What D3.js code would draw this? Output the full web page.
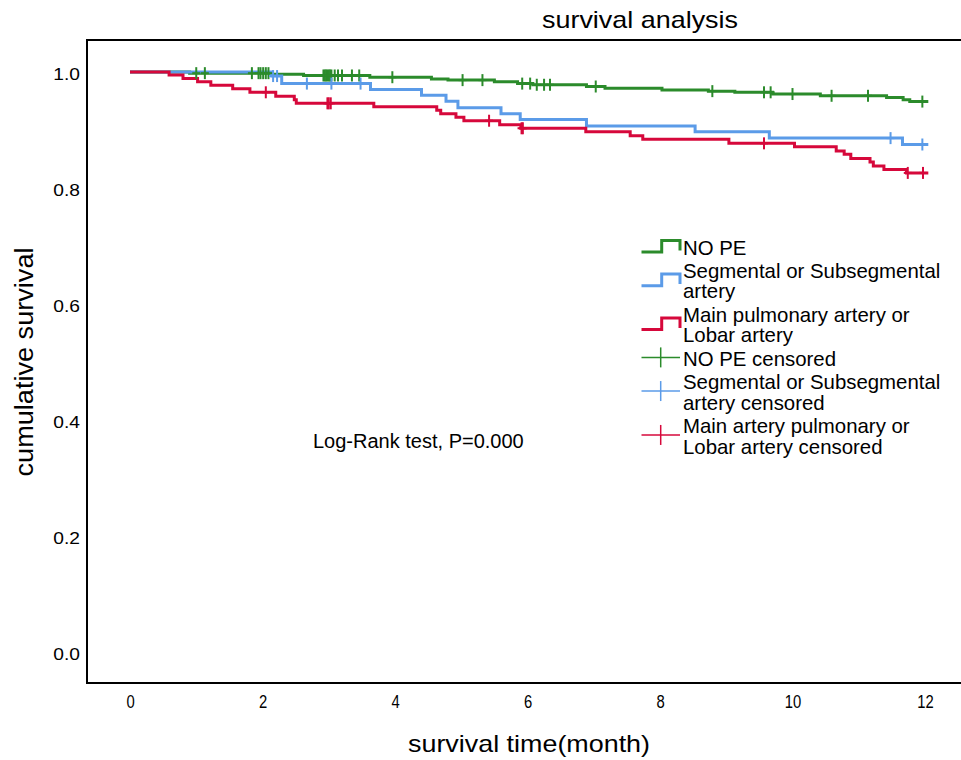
<!DOCTYPE html>
<html>
<head>
<meta charset="utf-8">
<script src="https://cdn.jsdelivr.net/npm/d3@7"></script>
<style>
  body { margin: 0; background: #fff; }
  svg text { font-family: "Liberation Sans", Arial, sans-serif; fill: #000; }
</style>
</head>
<body>
<svg id="chart" width="961" height="760"></svg>
<script>
// ---- data ----
const groupNames = ["NO PE", "Segmental or Subsegmental artery", "Main pulmonary artery or Lobar artery"];
const groupColors = ["#2b8b2b", "#5b9be8", "#d6083b"];
const endTime = 12.05;

const noPeTimes = [0.9, 2.15, 2.62, 3.62, 4.55, 4.8, 5.5, 5.85, 6.08, 6.89, 7.17, 8.03, 8.73, 9.13, 9.7, 10.42, 11.42, 11.67, 11.77];
const noPeSurv  = [0.998, 0.996, 0.994, 0.991, 0.988, 0.986, 0.983, 0.980, 0.978, 0.975, 0.972, 0.969, 0.967, 0.965, 0.962, 0.959, 0.956, 0.952, 0.949];
const noPeCensor = [1.0, 1.13, 1.84, 1.94, 1.97, 2.01, 2.05, 2.09, 2.92, 2.94, 2.96, 2.98, 3.0, 3.02, 3.04, 3.09, 3.14, 3.2, 3.35, 3.46,
  3.96, 5.02, 5.32, 5.92, 6.04, 6.14, 6.25, 6.34, 7.03, 8.79, 9.57, 9.67, 10.0, 10.59, 11.14, 11.96];

const segTimes = [2.14, 2.29, 3.63, 4.40, 4.77, 4.95, 5.60, 5.89, 6.89, 8.53, 9.65, 11.66];
const segSurv  = [0.993, 0.980, 0.970, 0.960, 0.9495, 0.9385, 0.928, 0.918, 0.907, 0.897, 0.886, 0.875];
const segCensor = [2.16, 2.22, 2.67, 3.04, 3.48, 11.48, 11.96];

const mainTimes = [0.59, 0.80, 1.02, 1.22, 1.55, 1.81, 2.20, 2.48, 2.51, 3.68, 4.63, 4.69, 4.92, 5.04, 5.58, 5.90, 6.88, 7.55, 7.74,
  9.04, 10.03, 10.66, 10.78, 10.88, 11.17, 11.22, 11.38, 11.72];
const mainSurv  = [0.995, 0.989, 0.983, 0.977, 0.971, 0.965, 0.958, 0.952, 0.946, 0.940, 0.934, 0.928, 0.922, 0.916, 0.909, 0.903,
  0.897, 0.890, 0.884, 0.877, 0.871, 0.864, 0.858, 0.851, 0.845, 0.838, 0.832, 0.826];
const mainCensor = [2.05, 2.98, 3.0, 3.03, 5.42, 5.91, 5.93, 9.57, 11.74, 11.97];

const xTicks = [0, 2, 4, 6, 8, 10, 12];
const yTicks = [0, 0.2, 0.4, 0.6, 0.8, 1.0];

const legendItems = [
  { lines: ["NO PE"], type: "step", color: 0 },
  { lines: ["Segmental or Subsegmental", "artery"], type: "step", color: 1 },
  { lines: ["Main pulmonary artery or", "Lobar artery"], type: "step", color: 2 },
  { lines: ["NO PE censored"], type: "cross", color: 0 },
  { lines: ["Segmental or Subsegmental", "artery censored"], type: "cross", color: 1 },
  { lines: ["Main artery pulmonary or", "Lobar artery censored"], type: "cross", color: 2 }
];

// ---- layout ----
const svg = d3.select("#chart");
const x = d3.scaleLinear().domain([0, 12]).range([130, 925]);
const y = d3.scaleLinear().domain([0, 1]).range([652, 72]);

// frame
svg.append("line").attr("x1", 87).attr("x2", 87).attr("y1", 40).attr("y2", 684)
  .attr("stroke", "#000").attr("stroke-width", 2);
svg.append("line").attr("x1", 86).attr("x2", 961).attr("y1", 40).attr("y2", 40)
  .attr("stroke", "#000").attr("stroke-width", 2);
svg.append("line").attr("x1", 86).attr("x2", 961).attr("y1", 683).attr("y2", 683)
  .attr("stroke", "#000").attr("stroke-width", 2);

// axes (labels only)
const xAxis = svg.append("g").attr("transform", "translate(0,683)")
  .call(d3.axisBottom(x).tickValues(xTicks).tickSize(0).tickPadding(0).tickFormat(d3.format("d")));
xAxis.select(".domain").remove();
xAxis.attr("font-size", null);
xAxis.selectAll("text").attr("y", 0).attr("dy", 0)
  .attr("transform", "translate(0,25) scale(0.78,1)")
  .attr("font-size", 19).style("font-size", "19px");

const yAxis = svg.append("g").attr("transform", "translate(80,0)")
  .call(d3.axisLeft(y).tickValues(yTicks).tickSize(0).tickPadding(0).tickFormat(d3.format(".1f")));
yAxis.select(".domain").remove();
yAxis.attr("font-size", null);
yAxis.selectAll("text").attr("x", 0).attr("dy", "0.36em")
  .attr("transform", "translate(0,2) scale(1.2,1)")
  .attr("font-size", 16).style("font-size", "16px");

// titles
svg.append("text").attr("x", 640).attr("y", 28).attr("text-anchor", "middle")
  .attr("textLength", 196).attr("lengthAdjust", "spacingAndGlyphs")
  .style("font-size", "24px").text("survival analysis");
svg.append("text").attr("x", 529).attr("y", 752).attr("text-anchor", "middle")
  .attr("textLength", 242).attr("lengthAdjust", "spacingAndGlyphs")
  .style("font-size", "24px").text("survival time(month)");
svg.append("text").attr("transform", "translate(33,362) rotate(-90)").attr("text-anchor", "middle")
  .attr("textLength", 229).attr("lengthAdjust", "spacingAndGlyphs")
  .style("font-size", "25px").text("cumulative survival");

svg.append("text").attr("x", 313).attr("y", 448).style("font-size", "20px")
  .text("Log-Rank test, P=0.000");

// ---- curves ----
const series = [
  { times: noPeTimes, surv: noPeSurv, censor: noPeCensor },
  { times: segTimes, surv: segSurv, censor: segCensor },
  { times: mainTimes, surv: mainSurv, censor: mainCensor }
];

function survAt(s, t) {
  let v = 1;
  s.times.forEach((tt, i) => { if (tt <= t) v = s.surv[i]; });
  return v;
}

const line = d3.line().x(d => x(d[0])).y(d => y(d[1])).curve(d3.curveStepAfter);

series.forEach((s, i) => {
  const pts = [[0, 1]].concat(s.times.map((t, j) => [t, s.surv[j]]));
  pts.push([endTime, s.surv[s.surv.length - 1]]);
  svg.append("path").datum(pts).attr("d", line)
    .attr("fill", "none").attr("stroke", groupColors[i]).attr("stroke-width", 3);
});

series.forEach((s, i) => {
  const g = svg.append("g").attr("stroke", groupColors[i]);
  g.selectAll("line.v").data(s.censor).join("line").attr("class", "v")
    .attr("x1", d => x(d)).attr("x2", d => x(d))
    .attr("y1", d => y(survAt(s, d)) - 6).attr("y2", d => y(survAt(s, d)) + 6)
    .attr("stroke-width", 2);
  g.selectAll("line.h").data(s.censor).join("line").attr("class", "h")
    .attr("x1", d => x(d) - 4).attr("x2", d => x(d) + 4)
    .attr("y1", d => y(survAt(s, d))).attr("y2", d => y(survAt(s, d)))
    .attr("stroke-width", 2);
});

// ---- legend ----
const lineH = 20.5, itemGap = 23.4;
let base = 254.5;
const leg = svg.append("g");
legendItems.forEach(item => {
  const first = base, last = base + (item.lines.length - 1) * lineH;
  const c = (first + last) / 2 - 8.3;
  item.lines.forEach((t, k) => {
    leg.append("text").attr("x", 683).attr("y", first + k * lineH).style("font-size", "20.4px").text(t);
  });
  const col = groupColors[item.color];
  if (item.type === "step") {
    leg.append("path")
      .attr("d", `M641.5,${c + 5.8}H661.7V${c - 5.8}H680V${c + 4.2}`)
      .attr("fill", "none").attr("stroke", col).attr("stroke-width", 3);
  } else {
    leg.append("line").attr("x1", 641.5).attr("x2", 680).attr("y1", c).attr("y2", c)
      .attr("stroke", col).attr("stroke-width", 1.5);
    leg.append("line").attr("x1", 660.7).attr("x2", 660.7).attr("y1", c - 10).attr("y2", c + 10)
      .attr("stroke", col).attr("stroke-width", 1.5);
  }
  base = last + itemGap;
});
</script>
</body>
</html>
